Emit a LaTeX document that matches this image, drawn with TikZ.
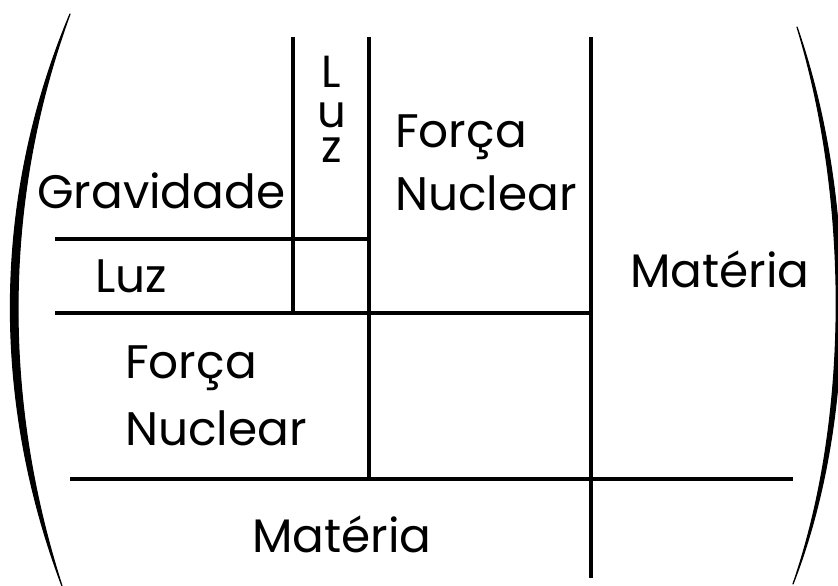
\documentclass[tikz,border=0pt]{standalone}
\usepackage{fontspec}
\setmainfont{Poppins}
\begin{document}
\begin{tikzpicture}[x=1pt,y=-1pt,
  lbl/.style={inner sep=0pt,anchor=base west,font=\fontsize{47}{50}\selectfont},
  vlet/.style={inner sep=0pt,anchor=base,font=\fontsize{45}{45}\selectfont},
  rule/.style={line width=4pt},
  brk/.style={fill=black,draw=black,line width=1.2pt,line join=round}]
\useasboundingbox (0,0) rectangle (838,586);
% brackets
\fill[brk] (70,14) .. controls (-8,200) and (-8,400) .. (62,586)
   .. controls (2,400) and (2,200) .. (70,14) -- cycle;
\fill[brk] (797,27) .. controls (857,200) and (857,420) .. (793,584)
   .. controls (850,420) and (850,200) .. (797,27) -- cycle;
% coordinates
\coordinate (v1t) at (293,37);  \coordinate (v1b) at (293,313);
\coordinate (v2t) at (369,37);  \coordinate (v2b) at (369,479);
\coordinate (v3t) at (591,37);  \coordinate (v3b) at (591,578);
\coordinate (h1l) at (55,239);  \coordinate (h1r) at (369,239);
\coordinate (h2l) at (55,313);  \coordinate (h2r) at (591,313);
\coordinate (h3l) at (70,479);  \coordinate (h3r) at (793,479);
\draw[rule] (v1t) -- (v1b);
\draw[rule] (v2t) -- (v2b);
\draw[rule] (v3t) -- (v3b);
\draw[rule] (h1l) -- (h1r);
\draw[rule] (h2l) -- (h2r);
\draw[rule] (h3l) -- (h3r);
% labels
\node[lbl] (grav) at (37,208) {Gravidade};
\node[lbl] (luz1) at (95,292) {Luz};
\node[vlet] (lzL) at (331,88) {L};
\node[vlet] (lzU) at (332,127) {u};
\node[vlet] (lzZ) at (332,162) {z};
\node[lbl] (fn1a) at (395,147) {Força};
\node[lbl] (fn1b) at (395,210) {Nuclear};
\node[lbl] (mat1) at (630,287) {Matéria};
\node[lbl] (fn2a) at (125,378) {Força};
\node[lbl] (fn2b) at (125,445) {Nuclear};
\node[lbl] (mat2) at (252,552) {Matéria};
\end{tikzpicture}
\end{document}
